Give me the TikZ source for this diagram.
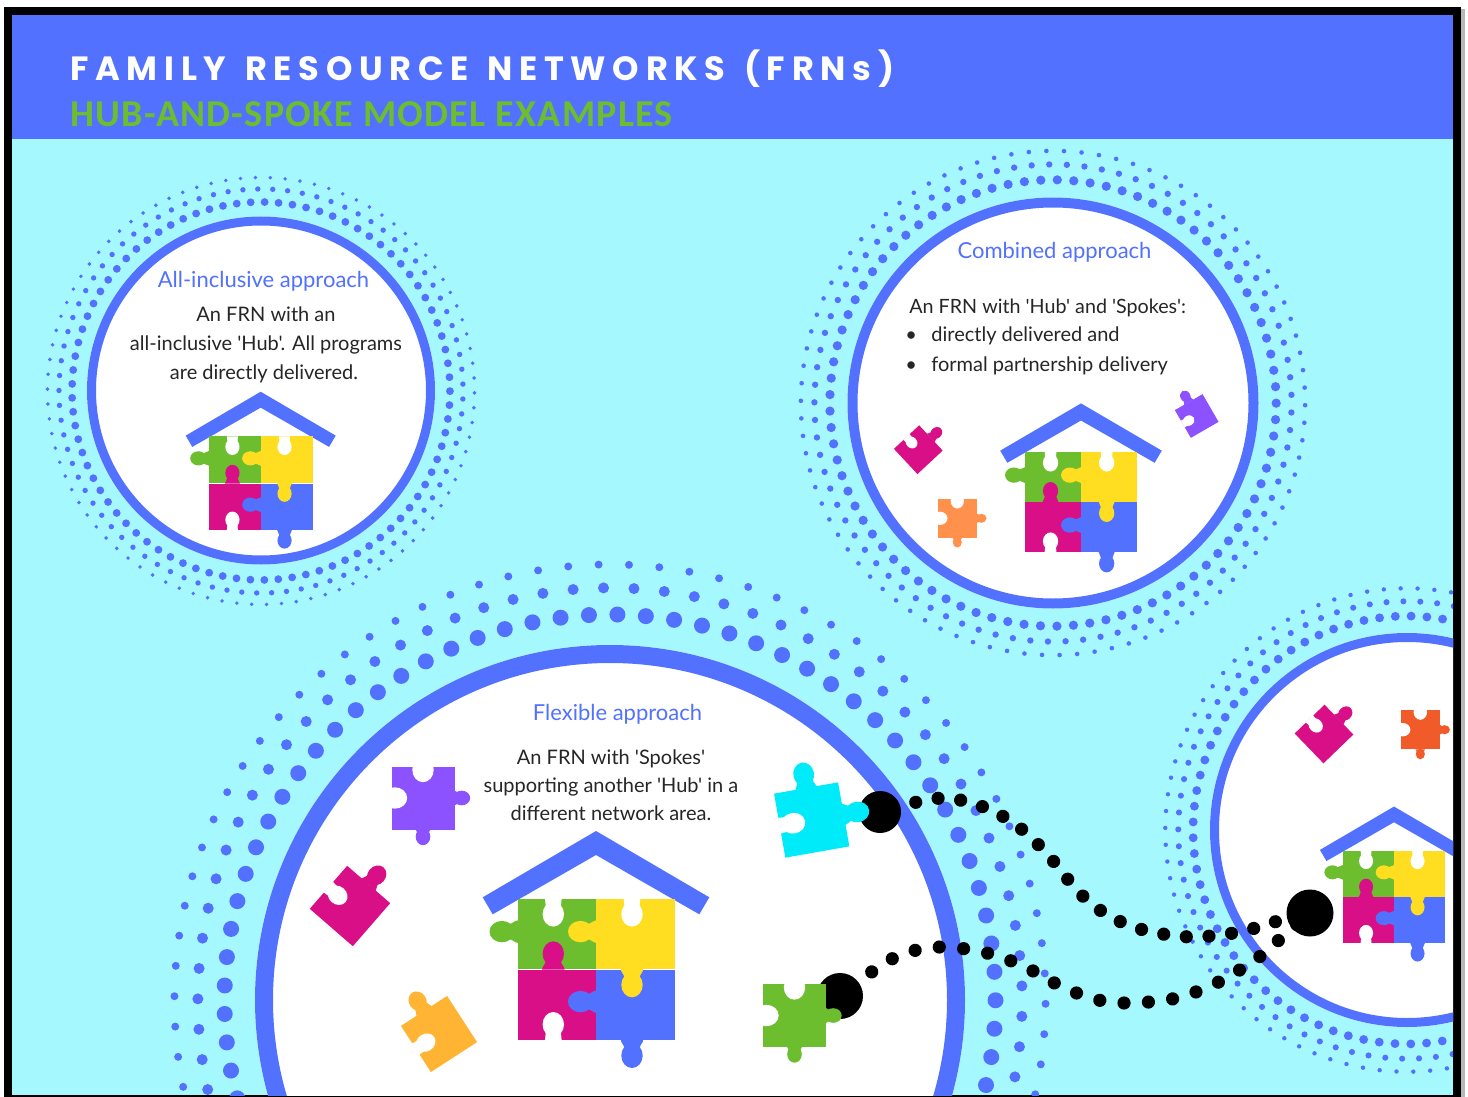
\documentclass[tikz,border=0pt]{standalone}
\usepackage{fontspec}
\newfontfamily\titlef[LetterSpace=20,WordSpace=1.35]{Poppins}
\newfontfamily\subf[LetterSpace=3.4]{Carlito}
\newfontfamily\bodyf{Lato}
\definecolor{brand}{HTML}{5271FF}
\definecolor{sky}{HTML}{A6F8FF}
\definecolor{leaf}{HTML}{6CBE2E}
\definecolor{sun}{HTML}{FFDE21}
\definecolor{berry}{HTML}{D90F88}
\definecolor{violet}{HTML}{8C52FF}
\definecolor{aqua}{HTML}{00EBFA}
\definecolor{amber}{HTML}{FFB433}
\definecolor{peach}{HTML}{FF914D}
\definecolor{flame}{HTML}{F15A29}
\definecolor{ink}{HTML}{262626}
\tikzset{
  headtxt/.style={font=\bodyf\fontsize{11}{13}\selectfont,text=brand,inner sep=0pt,anchor=base},
  bodytxt/.style={font=\bodyf\fontsize{10}{12}\selectfont,text=ink,inner sep=0pt,anchor=base},
  bodyleft/.style={bodytxt,anchor=base west},
  disc/.style={circle,fill=black,inner sep=0pt},
  dotline/.style={draw=black,line cap=round,line width=6.6pt},
}
% a tab: base on an edge at (x,y), pointing along angle, length, head radius, colour
\newcommand\shoulder{1.05}
\newcommand\bump[6]{\begin{scope}[shift={(#1,#2)},rotate=#3]
  \pgfmathsetmacro\bmpX{1.16*#5}\pgfmathsetmacro\bmpC{#4-\bmpX}\pgfmathsetmacro\bmpN{.7*#5}\pgfmathsetmacro\bmpF{\shoulder*#5}
  \fill[#6] (\bmpC,0) circle[x radius=\bmpX,y radius=#5];
  \fill[#6] (-.3,-\bmpF) .. controls ({.2*\bmpC},-\bmpF) and ({.3*\bmpC},-\bmpN) .. ({.6*\bmpC},-\bmpN)
     -- ({.6*\bmpC},\bmpN) .. controls ({.3*\bmpC},\bmpN) and ({.2*\bmpC},\bmpF) .. (-.3,\bmpF) -- cycle;
\end{scope}}
% a notch: the same outline in white, without the flare
\newcommand\notch[5]{\begingroup\renewcommand\shoulder{.78}\bump{#1}{#2}{#3}{#4}{#5}{white}\endgroup}
% loose piece, drawn for side 63 and scaled
\newcommand\piece[6]{\begin{scope}[shift={(#1,#2)},rotate=#3,scale=#4/63]
  \def\pc{#5}
  \fill[#5] (-31.5,-31.5) rectangle (31.5,31.5);
  #6
\end{scope}}
\newcommand\tabR{\bump{31.5}{0}{0}{15.7}{7.3}{\pc}}
\newcommand\tabB{\bump{0}{31.5}{-90}{15.7}{7.3}{\pc}}
\newcommand\notT{\notch{0}{-31.5}{-90}{15.7}{10.7}}
\newcommand\notL{\notch{-31.5}{0}{0}{15.7}{10.7}}
\newcommand\bigR{\bump{31.5}{0}{0}{25}{10}{\pc}}
\newcommand\bigT{\bump{0}{-31.5}{90}{25}{10}{\pc}}
\newcommand\bigNT{\notch{0}{-31.5}{-90}{25}{10}}
\newcommand\bigNL{\notch{-31.5}{0}{0}{25}{10}}
% house with four pieces
\newcommand\hub[3]{\begin{scope}[shift={(#1,#2)},scale=#3]
  \fill[brand] (0,-138.3) -- (113.3,-72) -- (103.3,-55) -- (0,-114.3) -- (-103.3,-55) -- (-113.3,-72) -- cycle;
  \fill[leaf] (-78.5,-70.7) rectangle (-.3,-.3);
  \fill[sun] (.3,-70.7) rectangle (78.5,-.3);
  \fill[berry] (-78.5,.3) rectangle (-.3,70.7);
  \fill[brand] (.3,.3) rectangle (78.5,70.7);
  \notch{-42.7}{-70.7}{-90}{28}{10.7}
  \notch{36}{-70.7}{-90}{28}{10.7}
  \bump{-78.5}{-37.7}{180}{28}{10.7}{leaf}
  \bump{0}{-37.7}{180}{28}{10.7}{sun}
  \bump{-42.7}{0}{90}{28}{10.7}{berry}
  \bump{36}{0}{-90}{28}{10.7}{sun}
  \bump{0}{32.3}{180}{28}{10.7}{brand}
  \notch{-42.7}{70.7}{90}{28}{10.7}
  \bump{36}{70.7}{-90}{28}{10.7}{brand}
\end{scope}}
% three rows of dots round a circle of outer radius #3
\newcommand\ringdots[3]{
  \foreach \k in {0,...,84}{
  \fill[brand] ({#1+1.086*#3*cos(88.9+\k*4.23529)},{#2-1.086*#3*sin(88.9+\k*4.23529)}) circle[radius=.0225*#3];
  \fill[brand] ({#1+1.161*#3*cos(90.9+\k*4.23529)},{#2-1.161*#3*sin(90.9+\k*4.23529)}) circle[radius=.0155*#3];
  }
  \foreach \k in {0,...,89}{
  \fill[brand] ({#1+1.227*#3*cos(91.5+\k*4)},{#2-1.227*#3*sin(91.5+\k*4)}) circle[radius=.0112*#3];
  }
}
% white disc with ring: cx, cy, outer radius, ring width
\newcommand\porthole[4]{
  \fill[white] (#1,#2) circle[radius=#3];
  \draw[brand,line width=#4*.5pt] (#1,#2) circle[radius=#3-#4/2];
}
\begin{document}
\begin{tikzpicture}[x=.5pt,y=-.5pt]
\useasboundingbox (0,0) rectangle (1468,1097);
\fill[white] (0,0) rectangle (1468,1097);
\fill[black!28] (6,9) rectangle (1465,1097);
\fill[black] (4,7) rectangle (1461,1097);
\begin{scope}
  \clip (12,15) rectangle (1453,1095);
  \fill[sky] (12,15) rectangle (1453,1095);
  \fill[brand] (12,15) rectangle (1453,139);
  \node[inner sep=0pt,anchor=base west,text=white,font=\titlef\bfseries\fontsize{16.8}{20}\selectfont] (title) at (70,80.5) {FAMILY RESOURCE NETWORKS (FRNs)};
  \node[inner sep=0pt,anchor=base west,text=leaf,font=\subf\bfseries\fontsize{19}{22}\selectfont] (subtitle) at (70,126.5) {HUB-AND-SPOKE MODEL EXAMPLES};

  \ringdots{261}{391}{174}
  \ringdots{1053}{403}{205.5}
  \ringdots{1407}{830}{197}
  \ringdots{610}{1000}{355}
  \porthole{261}{390.5}{174}{9}
  \porthole{1053}{403}{205.5}{10}
  \porthole{1407}{830}{197}{9}
  \porthole{610}{1000}{355}{18}

  \node[headtxt] (headA) at (263.5,287) {All-inclusive approach};
  \node[bodytxt] (a1) at (266,321) {An FRN with an};
  \node[bodytxt] (a2) at (266,350) {all-inclusive 'Hub'. All programs};
  \node[bodytxt] (a3) at (264,379) {are directly delivered.};

  \node[headtxt] (headB) at (1054.5,258) {Combined approach};
  \node[bodyleft,font=\bodyf\fontsize{9.85}{12}\selectfont] (b1) at (909,313) {An FRN with 'Hub' and 'Spokes':};
  \node[bodyleft] (b2m) at (905,341) {•};
  \node[bodyleft] (b2) at (931,341) {directly delivered and};
  \node[bodyleft] (b3m) at (905,371) {•};
  \node[bodyleft] (b3) at (931,371) {formal partnership delivery};

  \node[headtxt] (headC) at (617.5,720) {Flexible approach};
  \node[bodytxt] (c1) at (611,764) {An FRN with 'Spokes'};
  \node[bodytxt] (c2) at (611,792) {supporting another 'Hub' in a};
  \node[bodytxt] (c3) at (611,820) {different network area.};

  \hub{260.7}{483.3}{.662}
  \hub{1081}{502}{.713}
  \hub{596}{969.3}{1}
  \hub{1394}{897}{.654}

  \node[disc,minimum size=21pt] (discA) at (880,812) {};
  \node[disc,minimum size=23pt] (discB) at (840,996) {};
  \node[disc,minimum size=23.5pt] (discC) at (1310,913) {};

  \piece{423}{798}{0}{63}{violet}{\tabR\tabB\notT\notL}
  \piece{794.5}{1015.5}{0}{63}{leaf}{\tabR\tabB\notT\notL}
  \piece{350}{906}{49}{57}{berry}{\bigNT\bigR}
  \piece{439}{1034}{33}{55}{amber}{\bigT\bigNL}
  \piece{811.7}{820}{10}{65}{aqua}{\bigT\bigR\bigNL}
  \piece{918.3}{449.7}{43}{34.5}{berry}{\bigNT\bigR}
  \piece{957.3}{518.3}{0}{39}{peach}{\tabR\tabB\notT\notL}
  \piece{1196.7}{416}{30}{32}{violet}{\bigT\bigNL}
  \piece{1324}{734}{44}{41.5}{berry}{\bigNT\bigR}
  \piece{1420.3}{729.7}{0}{39.5}{flame}{\tabR\tabB\notT\notL}

  \draw[dotline,dash pattern=on .01pt off 11.35pt,dash phase=4.2pt] plot[smooth,tension=.6] coordinates {(discA.center) (915.7,802.3) (937.7,798.3) (960,800) (981.7,806.3) (1002.3,816) (1021,828.7) (1037.7,844) (1052.7,860.3) (1066.7,878) (1081.7,895) (1098.3,909) (1119,921) (1140,929) (1162.7,934) (1184,936.7) (1207,936.3) (1229.3,933.7) (1251.7,929) (1273.3,922.3) (discC.center)};
  \draw[dotline,dash pattern=on .01pt off 12.2pt,dash phase=4.5pt] plot[smooth,tension=.6] coordinates {(discB.center) (872,971.7) (892.3,958.7) (915.3,950.3) (939.7,947) (964,948.7) (988,953.3) (1011.3,961) (1033.7,971.3) (1055,983.3) (1077.3,993.3) (1098.3,1000) (1124,1003) (1149,1002) (1173.7,998.7) (1196.7,991.7) (1219.3,981.7) (1240.7,969.3) (1261,955.7) (1279.3,939.7) (discC.center)};
\end{scope}
\end{tikzpicture}
\end{document}
